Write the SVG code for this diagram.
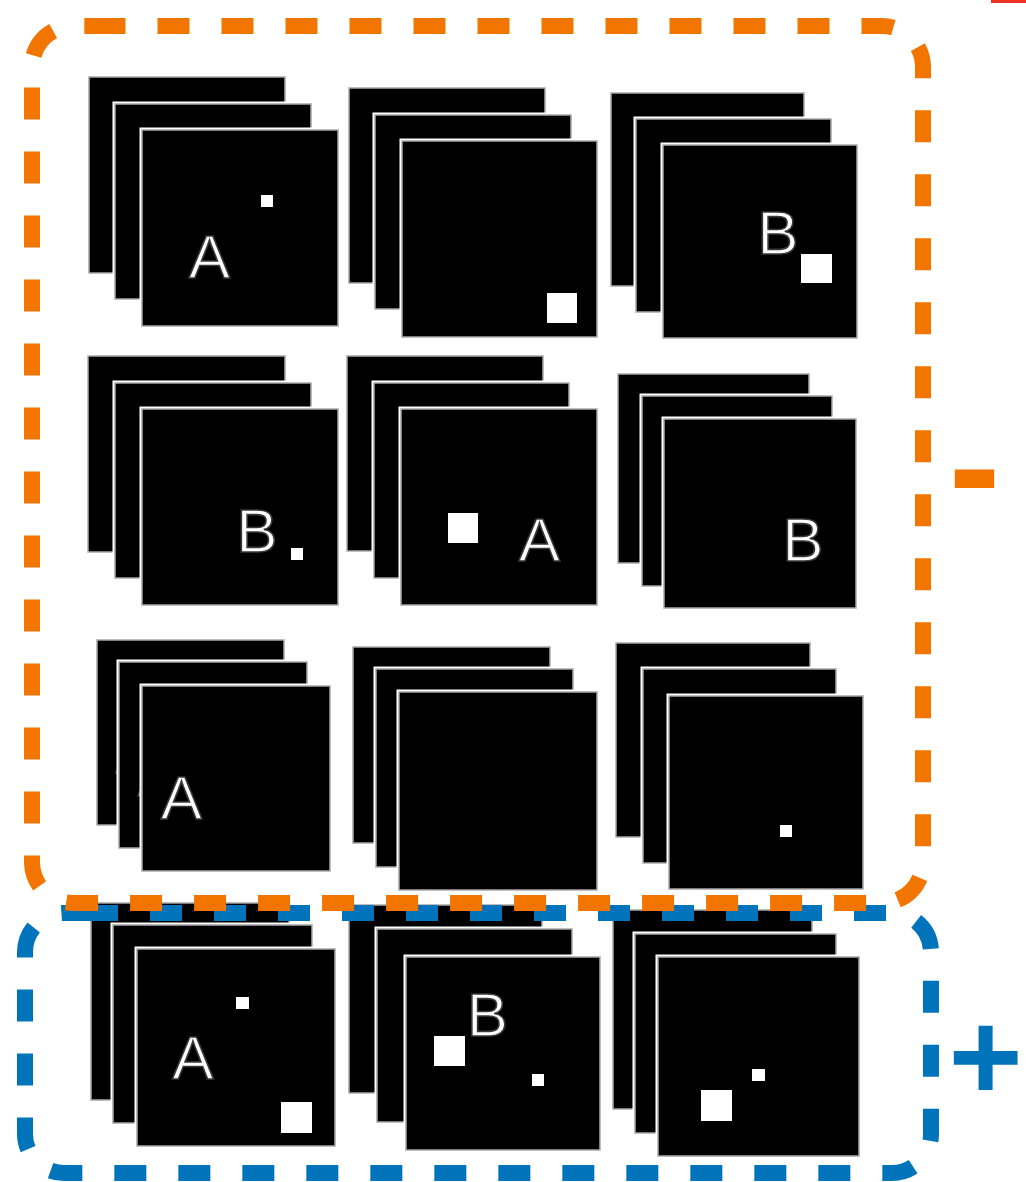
<svg xmlns="http://www.w3.org/2000/svg" width="1026" height="1182" viewBox="0 0 1026 1182">
<style>
.gap{fill:none;stroke:#fff;stroke-width:5}
.img{fill:#000;stroke:#a8a8a8;stroke-width:1.5}
.dot{fill:#fff}
.lt{font-family:"Liberation Sans",Arial,sans-serif;font-size:62px;fill:#fff;stroke:#3a3a3a;stroke-width:1.6;text-anchor:middle}
.box{fill:none;stroke-width:16;stroke-dasharray:32 32}
.sign{font-family:"Liberation Sans",Arial,sans-serif;font-weight:bold;text-anchor:middle}
</style>
<rect width="1026" height="1182" fill="#fff"/>
<g id="stack1">
<rect class="gap" x="89" y="77" width="196" height="196"/><rect class="img" x="89" y="77" width="196" height="196"/>
<rect class="gap" x="115" y="104" width="196" height="195"/><rect class="img" x="115" y="104" width="196" height="195"/>
<rect class="gap" x="142" y="130" width="196" height="196"/><rect class="img" x="142" y="130" width="196" height="196"/>
<rect class="dot" x="261" y="195" width="12" height="12"/>
<text class="lt" x="209.5" y="278">A</text>
</g>
<g id="stack2">
<rect class="gap" x="349" y="88" width="196" height="195"/><rect class="img" x="349" y="88" width="196" height="195"/>
<rect class="gap" x="375" y="115" width="196" height="194"/><rect class="img" x="375" y="115" width="196" height="194"/>
<rect class="gap" x="402" y="141" width="195" height="196"/><rect class="img" x="402" y="141" width="195" height="196"/>
<rect class="dot" x="547" y="293" width="30" height="30"/>
</g>
<g id="stack3">
<rect class="gap" x="611" y="93" width="193" height="193"/><rect class="img" x="611" y="93" width="193" height="193"/>
<rect class="gap" x="636" y="119" width="195" height="193"/><rect class="img" x="636" y="119" width="195" height="193"/>
<rect class="gap" x="663" y="145" width="194" height="193"/><rect class="img" x="663" y="145" width="194" height="193"/>
<rect class="dot" x="801" y="254" width="31" height="29"/>
<text class="lt" x="778" y="254">B</text>
</g>
<g id="stack4">
<rect class="gap" x="88" y="356" width="197" height="196"/><rect class="img" x="88" y="356" width="197" height="196"/>
<rect class="gap" x="115" y="383" width="196" height="195"/><rect class="img" x="115" y="383" width="196" height="195"/>
<rect class="gap" x="142" y="409" width="196" height="196"/><rect class="img" x="142" y="409" width="196" height="196"/>
<rect class="dot" x="291" y="548" width="12" height="12"/>
<text class="lt" x="257" y="552">B</text>
</g>
<g id="stack5">
<rect class="gap" x="347" y="356" width="196" height="195"/><rect class="img" x="347" y="356" width="196" height="195"/>
<rect class="gap" x="374" y="383" width="195" height="195"/><rect class="img" x="374" y="383" width="195" height="195"/>
<rect class="gap" x="401" y="409" width="196" height="196"/><rect class="img" x="401" y="409" width="196" height="196"/>
<rect class="dot" x="448" y="513" width="30" height="30"/>
<text class="lt" x="539.5" y="561">A</text>
</g>
<g id="stack6">
<rect class="gap" x="618" y="374" width="191" height="189"/><rect class="img" x="618" y="374" width="191" height="189"/>
<rect class="gap" x="642" y="396" width="190" height="190"/><rect class="img" x="642" y="396" width="190" height="190"/>
<rect class="gap" x="664" y="419" width="192" height="189"/><rect class="img" x="664" y="419" width="192" height="189"/>
<text class="lt" x="803" y="561">B</text>
</g>
<g id="stack7">
<rect class="gap" x="97" y="640" width="187" height="185"/><rect class="img" x="97" y="640" width="187" height="185"/>
<text class="lt" x="136.5" y="773">A</text>
<rect class="gap" x="119" y="662" width="188" height="186"/><rect class="img" x="119" y="662" width="188" height="186"/>
<text class="lt" x="158.5" y="796">A</text>
<rect class="gap" x="142" y="686" width="188" height="185"/><rect class="img" x="142" y="686" width="188" height="185"/>
<text class="lt" x="181.5" y="819">A</text>
</g>
<g id="stack8">
<rect class="gap" x="353" y="647" width="197" height="196"/><rect class="img" x="353" y="647" width="197" height="196"/>
<rect class="gap" x="376" y="669" width="197" height="198"/><rect class="img" x="376" y="669" width="197" height="198"/>
<rect class="gap" x="399" y="692" width="198" height="198"/><rect class="img" x="399" y="692" width="198" height="198"/>
</g>
<g id="stack9">
<rect class="gap" x="616" y="643" width="194" height="194"/><rect class="img" x="616" y="643" width="194" height="194"/>
<rect class="gap" x="643" y="669" width="193" height="194"/><rect class="img" x="643" y="669" width="193" height="194"/>
<rect class="gap" x="669" y="696" width="194" height="193"/><rect class="img" x="669" y="696" width="194" height="193"/>
<rect class="dot" x="780" y="825" width="12" height="12"/>
</g>
<g id="stack10">
<rect class="gap" x="91" y="903" width="198" height="197"/><rect class="img" x="91" y="903" width="198" height="197"/>
<rect class="gap" x="113" y="925" width="199" height="198"/><rect class="img" x="113" y="925" width="199" height="198"/>
<rect class="gap" x="137" y="949" width="198" height="197"/><rect class="img" x="137" y="949" width="198" height="197"/>
<rect class="dot" x="236" y="997" width="13" height="12"/>
<rect class="dot" x="281" y="1102" width="31" height="31"/>
<text class="lt" x="193" y="1079">A</text>
</g>
<g id="stack11">
<rect class="gap" x="349" y="905" width="193" height="188"/><rect class="img" x="349" y="905" width="193" height="188"/>
<rect class="gap" x="377" y="929" width="195" height="193"/><rect class="img" x="377" y="929" width="195" height="193"/>
<rect class="gap" x="406" y="957" width="194" height="193"/><rect class="img" x="406" y="957" width="194" height="193"/>
<rect class="dot" x="434" y="1036" width="31" height="30"/>
<rect class="dot" x="532" y="1074" width="12" height="12"/>
<text class="lt" x="487.5" y="1036">B</text>
</g>
<g id="stack12">
<rect class="gap" x="613" y="910" width="199" height="199"/><rect class="img" x="613" y="910" width="199" height="199"/>
<rect class="gap" x="635" y="934" width="201" height="199"/><rect class="img" x="635" y="934" width="201" height="199"/>
<rect class="gap" x="658" y="957" width="201" height="199"/><rect class="img" x="658" y="957" width="201" height="199"/>
<rect class="dot" x="752" y="1069" width="13" height="12"/>
<rect class="dot" x="701" y="1090" width="31" height="31"/>
</g>
<g id="connectors">
<path id="positive-box" class="box" stroke="#0074BA" d="M86 913H892A39 39 0 0 1 931 952V1134A39 39 0 0 1 892 1173H64A39 39 0 0 1 25 1134V952A39 39 0 0 1 64 913Z"/>
<path id="negative-box" class="box" stroke="#F27500" d="M93.5 26H882A41 41 0 0 1 923 67V862A41 41 0 0 1 882 903H73A41 41 0 0 1 32 862V67A41 41 0 0 1 73 26Z"/>
</g>
<g id="labels">
<text id="minus" class="sign" x="974.5" y="519" font-size="155" fill="#F27500">-</text>
<text id="plus" class="sign" x="985.5" y="1100" font-size="127" fill="#0074BA">+</text>
</g>
<rect x="991" y="0" width="35" height="3" fill="#EE3322"/>
</svg>
